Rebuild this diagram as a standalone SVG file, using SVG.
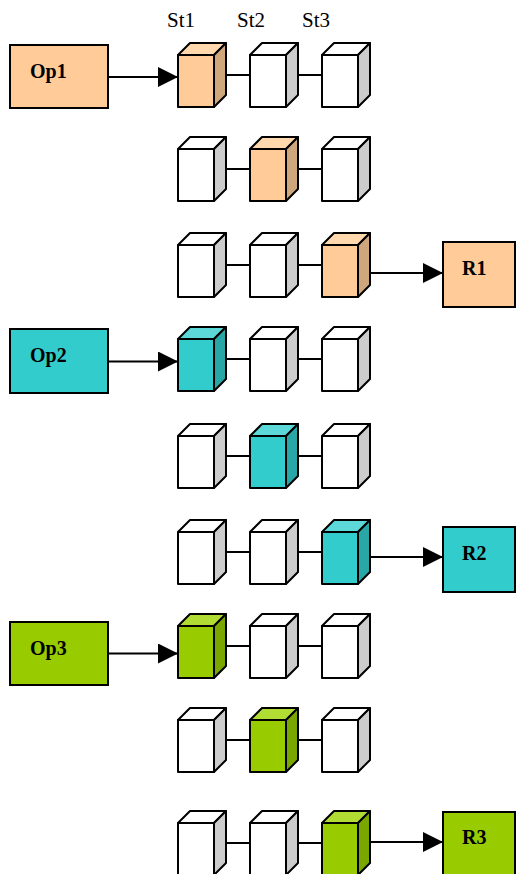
<svg xmlns="http://www.w3.org/2000/svg" width="516" height="874" viewBox="0 0 516 874">
<defs>
<style>
.cf,.ct,.cs{stroke:#000;stroke-width:2;stroke-linejoin:round}
.cf{fill:var(--f)}.ct{fill:var(--t)}.cs{fill:var(--s)}
.w{--f:#ffffff;--t:#ffffff;--s:#cccccc}
.p{--f:#ffcc99;--t:#ffd8ad;--s:#cfa77d}
.c{--f:#33cccc;--t:#5cd8d8;--s:#29a6a6}
.g{--f:#99cc00;--t:#b0dc33;--s:#7aa600}
.box{stroke:#000;stroke-width:2}
.lbl{font-family:"Liberation Serif","Times New Roman",serif;font-size:21px;fill:#000}
.bt{font-family:"Liberation Serif","Times New Roman",serif;font-size:20px;font-weight:bold;fill:#000}
.ln{stroke:#000;stroke-width:2;fill:none}
</style>
<marker id="ah" markerWidth="20" markerHeight="20" viewBox="0 0 20 20" refX="20" refY="10" orient="auto" markerUnits="userSpaceOnUse">
<path d="M0,0 L20,10 L0,20 z" fill="#000"/>
</marker>
<g id="cube">
<rect class="cf" x="0" y="0" width="36" height="52"/>
<polygon class="ct" points="0,0 12,-12 48,-12 36,0"/>
<polygon class="cs" points="36,0 48,-12 48,40 36,52"/>
</g>
</defs>
<rect width="516" height="874" fill="#fff"/>
<g id="labels">
<text class="lbl" x="167" y="27">St1</text>
<text class="lbl" x="237" y="27">St2</text>
<text class="lbl" x="302" y="27">St3</text>
</g>
<g id="connectors">
<line class="ln" x1="108" y1="77" x2="178" y2="77" marker-end="url(#ah)"/>
<line class="ln" x1="108" y1="361.5" x2="178" y2="361.5" marker-end="url(#ah)"/>
<line class="ln" x1="108" y1="653.5" x2="178" y2="653.5" marker-end="url(#ah)"/>
<line class="ln" x1="371" y1="273" x2="443" y2="273" marker-end="url(#ah)"/>
<line class="ln" x1="371" y1="557" x2="443" y2="557" marker-end="url(#ah)"/>
<line class="ln" x1="371" y1="842" x2="443" y2="842" marker-end="url(#ah)"/>
<g id="chains">
<path class="ln" d="M226,75H250M298,75H322"/>
<path class="ln" d="M226,169H250M298,169H322"/>
<path class="ln" d="M226,265H250M298,265H322"/>
<path class="ln" d="M226,359H250M298,359H322"/>
<path class="ln" d="M226,456H250M298,456H322"/>
<path class="ln" d="M226,552H250M298,552H322"/>
<path class="ln" d="M226,646H250M298,646H322"/>
<path class="ln" d="M226,740H250M298,740H322"/>
<path class="ln" d="M226,843H250M298,843H322"/>
</g>
</g>
<g id="Op1"><rect class="box" x="10" y="45" width="98" height="63" fill="#ffcc99"/><text class="bt" x="30" y="78">Op1</text></g>
<g id="Op2"><rect class="box" x="10" y="329" width="98" height="64" fill="#33cccc"/><text class="bt" x="30" y="362">Op2</text></g>
<g id="Op3"><rect class="box" x="10" y="622" width="98" height="63" fill="#99cc00"/><text class="bt" x="30" y="655">Op3</text></g>
<g id="R1"><rect class="box" x="443" y="242" width="72" height="65" fill="#ffcc99"/><text class="bt" x="462" y="275">R1</text></g>
<g id="R2"><rect class="box" x="443" y="527" width="72" height="65" fill="#33cccc"/><text class="bt" x="462" y="560">R2</text></g>
<g id="R3"><rect class="box" x="443" y="812" width="72" height="65" fill="#99cc00"/><text class="bt" x="462" y="844">R3</text></g>
<g id="row1"><use class="p" href="#cube" x="178" y="55"/><use class="w" href="#cube" x="250" y="55"/><use class="w" href="#cube" x="322" y="55"/></g>
<g id="row2"><use class="w" href="#cube" x="178" y="149"/><use class="p" href="#cube" x="250" y="149"/><use class="w" href="#cube" x="322" y="149"/></g>
<g id="row3"><use class="w" href="#cube" x="178" y="245"/><use class="w" href="#cube" x="250" y="245"/><use class="p" href="#cube" x="322" y="245"/></g>
<g id="row4"><use class="c" href="#cube" x="178" y="339"/><use class="w" href="#cube" x="250" y="339"/><use class="w" href="#cube" x="322" y="339"/></g>
<g id="row5"><use class="w" href="#cube" x="178" y="436"/><use class="c" href="#cube" x="250" y="436"/><use class="w" href="#cube" x="322" y="436"/></g>
<g id="row6"><use class="w" href="#cube" x="178" y="532"/><use class="w" href="#cube" x="250" y="532"/><use class="c" href="#cube" x="322" y="532"/></g>
<g id="row7"><use class="g" href="#cube" x="178" y="626"/><use class="w" href="#cube" x="250" y="626"/><use class="w" href="#cube" x="322" y="626"/></g>
<g id="row8"><use class="w" href="#cube" x="178" y="720"/><use class="g" href="#cube" x="250" y="720"/><use class="w" href="#cube" x="322" y="720"/></g>
<g id="row9"><use class="w" href="#cube" x="178" y="823"/><use class="w" href="#cube" x="250" y="823"/><use class="g" href="#cube" x="322" y="823"/></g>
</svg>
